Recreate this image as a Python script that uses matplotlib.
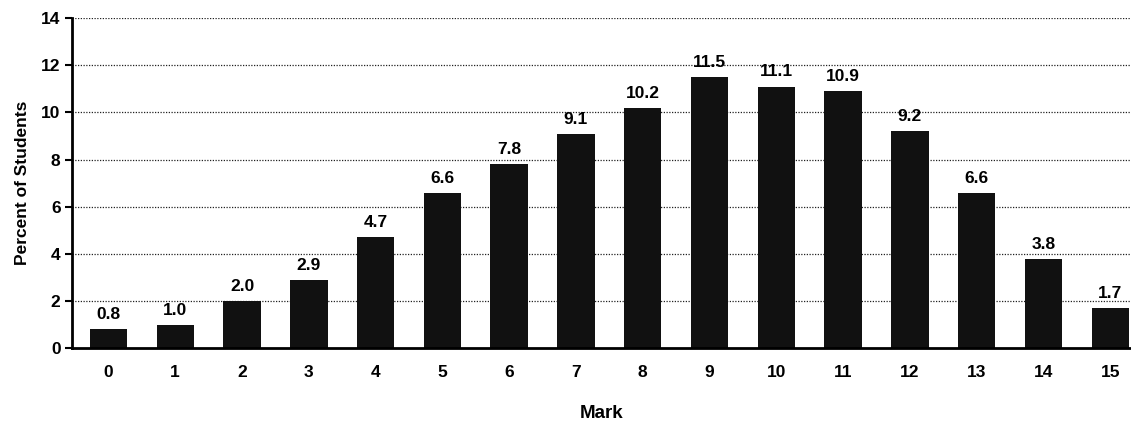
import numpy as np
import matplotlib.pyplot as plt

marks = list(range(16))
percent = [0.8, 1.0, 2.0, 2.9, 4.7, 6.6, 7.8, 9.1, 10.2, 11.5, 11.1, 10.9, 9.2, 6.6, 3.8, 1.7]
yticks = [0, 2, 4, 6, 8, 10, 12, 14]

plt.rcParams['font.family'] = ['Liberation Sans', 'DejaVu Sans']

fig = plt.figure(figsize=(11.31, 4.22), dpi=100)
ax = fig.add_axes([0.064, 0.175, 0.936, 0.782])

# dotted grid behind the bars
for y in yticks[1:]:
    ax.axhline(y, color='#222222', lw=0.9, ls=(0, (1, 1.2)), zorder=0)

bars = ax.bar(marks, percent, width=0.56, color='#111111', zorder=2)
for x, v in zip(marks, percent):
    ax.text(x, v + 0.3, f'{v:.1f}', ha='center', va='bottom', fontsize=12.5,
            fontweight='semibold', zorder=3)

ax.set_xlim(-0.54, 15.31)
ax.set_ylim(0, 14)
ax.set_yticks(yticks)
ax.set_xticks(marks)
ax.tick_params(axis='y', direction='out', length=5, width=1.5, labelsize=12.5)
ax.tick_params(axis='x', length=0, pad=12, labelsize=12.5)
for lab in ax.get_xticklabels() + ax.get_yticklabels():
    lab.set_fontweight('bold')

ax.spines['top'].set_visible(False)
ax.spines['right'].set_visible(False)
ax.spines['left'].set_linewidth(2)
ax.spines['bottom'].set_linewidth(2)

ax.set_xlabel('Mark', fontsize=13.5, fontweight='bold', labelpad=18)
ax.set_ylabel('Percent of Students', fontsize=12.5, fontweight='bold', labelpad=8)

fig.savefig('out.png', dpi=100)
